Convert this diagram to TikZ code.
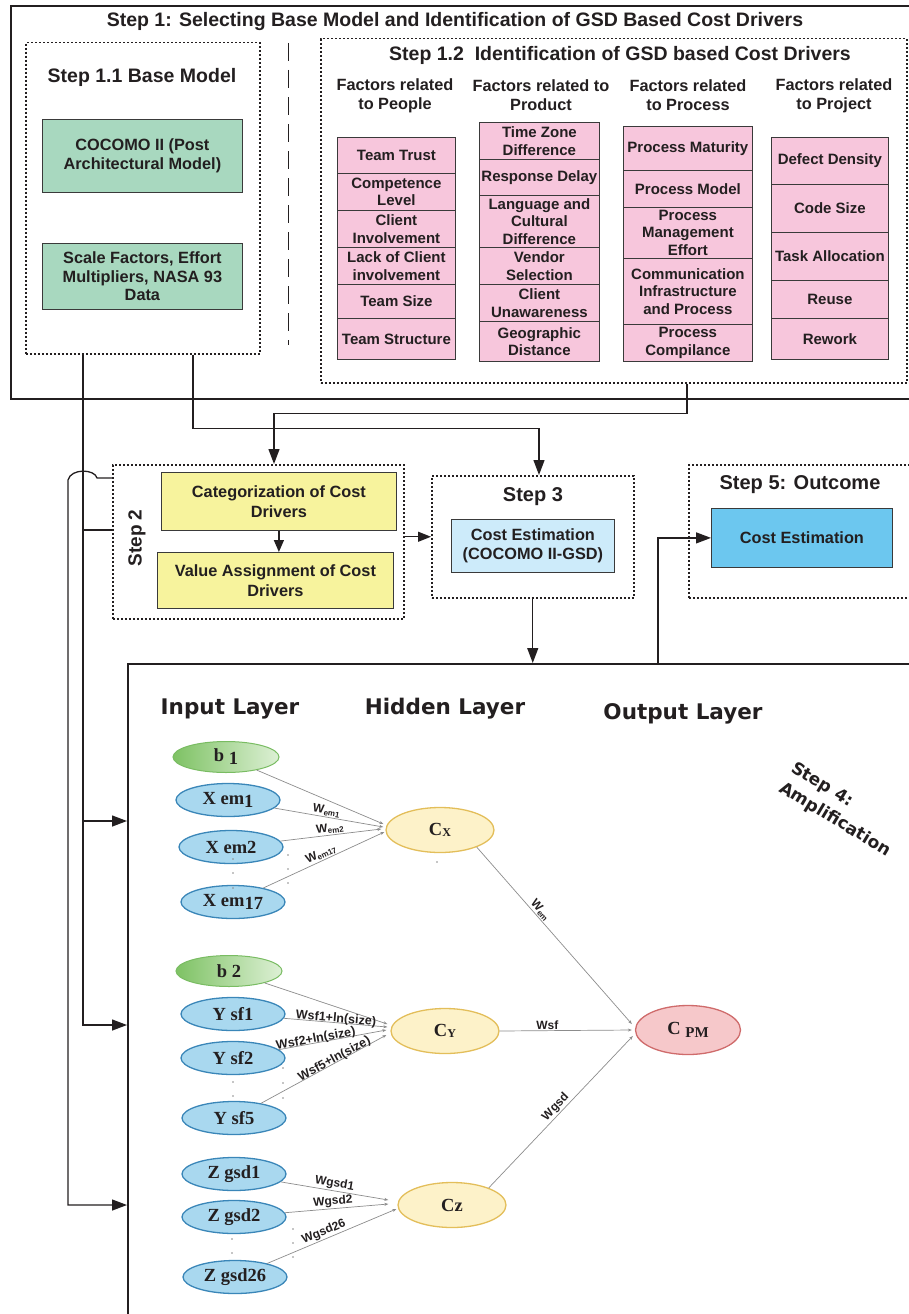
\documentclass[tikz,border=0pt]{standalone}
\usepackage{fontspec}
\setmainfont{Liberation Sans}
\newfontfamily\timesfam{Liberation Serif}
\newfontfamily\dejafam{DejaVu Sans}
\usetikzlibrary{arrows.meta,shapes.geometric,calc}
\definecolor{ink}{HTML}{231F20}
\definecolor{boxline}{HTML}{3A3A3A}
\definecolor{greenbox}{HTML}{A8D8BF}
\definecolor{pinkbox}{HTML}{F7C6DC}
\definecolor{yellowbox}{HTML}{F7F39D}
\definecolor{lightbluebox}{HTML}{CDEBFA}
\definecolor{bluebox}{HTML}{6CC7EF}
\definecolor{ellblue}{HTML}{A9D8EF}
\definecolor{ellblueD}{HTML}{3A86B8}
\definecolor{ellyel}{HTML}{FDF2C9}
\definecolor{ellyelD}{HTML}{E3BE5A}
\definecolor{ellpink}{HTML}{F6C8CA}
\definecolor{ellpinkD}{HTML}{CF6B6B}
\definecolor{bgreenA}{HTML}{7EC264}
\definecolor{bgreenB}{HTML}{DDF0D5}
\definecolor{bgreenD}{HTML}{79BC62}
\definecolor{nnline}{HTML}{8C8C8C}
\newcommand{\cellfnt}{\fontsize{15}{17.5}\selectfont\bfseries}
\newcommand{\hdrfnt}{\fontsize{16.3}{19}\selectfont\bfseries}
\newcommand{\ttlfnt}{\fontsize{19.5}{22}\selectfont\bfseries}
\newcommand{\bigcellfnt}{\fontsize{16.3}{18.5}\selectfont\bfseries}
\newcommand{\midfnt}{\fontsize{16.3}{20}\selectfont\bfseries}
\newcommand{\stepfnt}{\fontsize{20}{23}\selectfont\bfseries}
\newcommand{\layerfnt}{\dejafam\fontsize{21.5}{25}\selectfont\bfseries}
\newcommand{\stepfourfnt}{\dejafam\fontsize{17}{23}\selectfont\bfseries}
\newcommand{\nnfnt}{\timesfam\fontsize{18.5}{20}\selectfont\bfseries}
\newcommand{\lblfnt}{\fontsize{12}{13}\selectfont\bfseries}
\newcommand{\sflblfnt}{\fontsize{12.5}{13}\selectfont\bfseries}
\newcommand{\lo}[1]{\raisebox{-3pt}{#1}}
\begin{document}
\begin{tikzpicture}[x=1pt,y=-1pt,
  solidbox/.style={draw=ink,line width=1.6pt,anchor=north west,inner sep=0pt},
  dotbox/.style={draw=ink,line width=1.5pt,dash pattern=on 2pt off 2pt,anchor=north west,inner sep=0pt},
  cell/.style={draw=boxline,line width=0.8pt,fill=pinkbox,anchor=north west,inner sep=0pt,align=center,font=\cellfnt,text=ink},
  greencell/.style={cell,fill=greenbox,font=\bigcellfnt},
  yelcell/.style={cell,fill=yellowbox,font=\midfnt},
  lbcell/.style={cell,fill=lightbluebox,font=\bigcellfnt},
  bcell/.style={cell,fill=bluebox,font=\bigcellfnt},
  title/.style={font=\ttlfnt,text=ink,align=center,inner sep=0pt},
  header/.style={font=\hdrfnt,text=ink,align=center,inner sep=0pt},
  conn/.style={draw=ink,line width=1.3pt},
  arr/.style={-{Triangle[length=15pt,width=11pt]}},
  inb/.style={ellipse,draw=ellblueD,fill=ellblue,line width=1.3pt,minimum width=104pt,minimum height=33pt,inner sep=0pt,font=\nnfnt,text=ink},
  bias/.style={ellipse,draw=bgreenD,left color=bgreenA,right color=bgreenB,line width=1pt,minimum width=106pt,minimum height=31pt,inner sep=0pt,font=\nnfnt,text=ink},
  hid/.style={ellipse,draw=ellyelD,fill=ellyel,line width=1.3pt,minimum width=108pt,minimum height=45pt,inner sep=0pt,font=\nnfnt,text=ink},
  outn/.style={ellipse,draw=ellpinkD,fill=ellpink,line width=1.3pt,minimum width=105pt,minimum height=49pt,inner sep=0pt,font=\nnfnt,text=ink},
  nnedge/.style={draw=nnline,line width=0.7pt,-{Stealth[length=4pt,width=3pt]}},
  lbl/.style={font=\lblfnt,text=ink,inner sep=1pt},
  sflbl/.style={font=\sflblfnt,text=ink,inner sep=0.5pt,sloped,above=-3pt},
  nndot/.style={circle,fill=nnline,inner sep=0pt,minimum size=1.8pt}
]
\useasboundingbox (0,0) rectangle (909,1314);
\clip (0,0) rectangle (909,1314);
% ---------- Step 1 ----------
\node[solidbox,minimum width=930pt,minimum height=393pt] (s1) at (10,5) {};
\node[title] (s1t) at (455,22) {Step 1: Selecting Base Model and Identification of GSD Based Cost Drivers};
\node[dotbox,minimum width=234pt,minimum height=311pt] (s11) at (25,42) {};
\node[title] (s11t) at (142,77) {Step 1.1 Base Model};
\node[greencell,minimum width=200pt,minimum height=73pt] (coc) at (42,119) {COCOMO II (Post\\Architectural Model)};
\node[greencell,minimum width=200pt,minimum height=66pt] (sfm) at (42,243) {Scale Factors, Effort\\Multipliers, NASA 93\\Data};
\draw[draw=ink,line width=0.9pt,dash pattern=on 18pt off 9pt] (288,43) -- (288,345);
\node[dotbox,minimum width=586pt,minimum height=344pt] (s12) at (320,38) {};
\node[title] (s12t) at (620,55) {Step 1.2\ \ Identification of GSD based Cost Drivers};
\node[header] (h1) at (395,95.5) {Factors related\\to People};
\node[header] (h2) at (541,95.5) {Factors related to\\Product};
\node[header] (h3) at (688,95.5) {Factors related\\to Process};
\node[header] (h4) at (834,95.5) {Factors related\\to Project};
% people
\node[cell,minimum width=118pt,minimum height=36pt] (pe1) at (337,137) {Team Trust};
\node[cell,minimum width=118pt,minimum height=37pt] (pe2) at (337,173) {Competence\\Level};
\node[cell,minimum width=118pt,minimum height=37pt] (pe3) at (337,210) {Client\\Involvement};
\node[cell,minimum width=118pt,minimum height=37pt] (pe4) at (337,247) {Lack of Client\\involvement};
\node[cell,minimum width=118pt,minimum height=34pt] (pe5) at (337,284) {Team Size};
\node[cell,minimum width=118pt,minimum height=41pt] (pe6) at (337,318) {Team Structure};
% product
\node[cell,minimum width=120pt,minimum height=37pt] (pr1) at (479,122) {Time Zone\\Difference};
\node[cell,minimum width=120pt,minimum height=36pt] (pr2) at (479,159) {Response Delay};
\node[cell,minimum width=120pt,minimum height=52pt] (pr3) at (479,195) {Language and\\Cultural\\Difference};
\node[cell,minimum width=120pt,minimum height=37pt] (pr4) at (479,247) {Vendor\\Selection};
\node[cell,minimum width=120pt,minimum height=37pt] (pr5) at (479,284) {Client\\Unawareness};
\node[cell,minimum width=120pt,minimum height=40pt] (pr6) at (479,321) {Geographic\\Distance};
% process
\node[cell,minimum width=129pt,minimum height=44pt] (pc1) at (623,126) {Process Maturity};
\node[cell,minimum width=129pt,minimum height=37pt] (pc2) at (623,170) {Process Model};
\node[cell,minimum width=129pt,minimum height=51pt] (pc3) at (623,207) {Process\\Management\\Effort};
\node[cell,minimum width=129pt,minimum height=66pt] (pc4) at (623,258) {Communication\\Infrastructure\\and Process};
\node[cell,minimum width=129pt,minimum height=37pt] (pc5) at (623,324) {Process\\Compilance};
% project
\node[cell,minimum width=117pt,minimum height=47pt] (pj1) at (771,137) {Defect Density};
\node[cell,minimum width=117pt,minimum height=48pt] (pj2) at (771,184) {Code Size};
\node[cell,minimum width=117pt,minimum height=48pt] (pj3) at (771,232) {Task Allocation};
\node[cell,minimum width=117pt,minimum height=38pt] (pj4) at (771,280) {Reuse};
\node[cell,minimum width=117pt,minimum height=41pt] (pj5) at (771,318) {Rework};
% ---------- Step 2, 3, 5 ----------
\node[dotbox,minimum width=291pt,minimum height=154pt] (s2) at (112,464) {};
\node[rotate=90,font=\fontsize{19}{22}\selectfont\bfseries,text=ink] (s2t) at (137,538) {Step 2};
\node[yelcell,minimum width=235pt,minimum height=58pt] (cat) at (161,472) {Categorization of Cost\\Drivers};
\node[yelcell,minimum width=236pt,minimum height=56pt] (val) at (157,552) {Value Assignment of Cost\\Drivers};
\node[dotbox,minimum width=202pt,minimum height=122pt] (s3) at (431,475) {};
\node[font=\stepfnt,text=ink] (s3t) at (533,497) {Step 3};
\node[lbcell,minimum width=163pt,minimum height=53pt] (est) at (451,519) {Cost Estimation\\(COCOMO II-GSD)};
\node[dotbox,minimum width=240pt,minimum height=133pt] (s5) at (688,464) {};
\node[font=\stepfnt,text=ink] (s5t) at (800,485) {Step 5: Outcome};
\node[bcell,minimum width=181pt,minimum height=59pt] (ce) at (711,508) {Cost Estimation};
% ---------- Step 4 box ----------
\node[solidbox,minimum width=900pt,minimum height=700pt] (nn) at (127,663) {};
% ---------- connectors ----------
\draw[conn,arr] ($(s11.south west)+(168,0)$) -- ++(0,74) -| ($(s3.north west)+(108,0)$);
\draw[conn,arr] ($(s12.south west)+(367,0)$) -- ++(0,30) -| ($(s2.north west)+(162,0)$);
\draw[conn,arr] ($(s11.south west)+(58,0)$) |- ($(nn.north west)+(0,362)$);
\draw[conn] ($(s2.north west)+(-29,66)$) -- ($(s2.north west)+(0,66)$);
\draw[conn,arr] ($(nn.north west)+(-44,158)$) -- ($(nn.north west)+(0,158)$);
\draw[conn,arr] ($(s2.north west)+(0,14)$) -- ($(s2.north west)+(-15,14)$)
   .. controls ($(s2.north west)+(-17,5)$) and ($(s2.north west)+(-41,4)$) .. ($(s2.north west)+(-44,16)$)
   |- ($(nn.north west)+(0,542)$);
\draw[conn,-{Triangle[length=12pt,width=10pt]}] (cat.south) -- (cat.south |- val.north);
\draw[conn,-{Triangle[length=13pt,width=10pt]}] (s3.west -| s2.east) -- (s3.west);
\draw[conn,arr] (s3.south) -- (s3.south |- nn.north);
\draw[conn,arr] ($(nn.north west)+(531,0)$) |- (ce.west);
% ---------- neural network ----------
\node[font=\layerfnt,text=ink] (il) at (230,709) {Input Layer};
\node[font=\layerfnt,text=ink] (hl) at (445,709) {Hidden Layer};
\node[font=\layerfnt,text=ink] (ol) at (683,714) {Output Layer};
\node[font=\stepfourfnt,text=ink,align=left,rotate=-31] (s4) at (841,810) {Step 4:\\Amplification};
\node[bias] (b1) at (226,757) {b \lo{1}};
\node[inb] (xe1) at (228,800) {X em\lo{1}};
\node[inb] (xe2) at (231,847) {X em2};
\node[inb] (xe17) at (233,902) {X em\lo{17}};
\node[hid] (cx) at (440,830) {C\raisebox{-1pt}{\fontsize{12}{12}\selectfont X}};
\node[bias] (b2) at (229,971) {b 2};
\node[inb] (ys1) at (233,1014) {Y sf1};
\node[inb] (ys2) at (233,1058) {Y sf2};
\node[inb] (ys5) at (234,1118) {Y sf5};
\node[hid] (cy) at (445,1031) {C\raisebox{-1pt}{\fontsize{12}{12}\selectfont Y}};
\node[inb] (zg1) at (234,1174) {Z gsd1};
\node[inb] (zg2) at (234,1217) {Z gsd2};
\node[inb] (zg26) at (235,1277) {Z gsd26};
\node[hid] (cz) at (452,1205) {Cz};
\node[outn] (cpm) at (688,1030) {C \lo{\fontsize{15}{15}\selectfont PM}};
% edges
\draw[nnedge] (b1) -- ($(cx.west)+(-2,-6)$);
\draw[nnedge] (xe1) -- node[lbl,sloped,above,pos=0.47] {W\textsubscript{em1}} ($(cx.west)+(-2,-3)$);
\draw[nnedge] (xe2) -- node[lbl,sloped,above,pos=0.5] {W\textsubscript{em2}} ($(cx.west)+(-4,-1)$);
\draw[nnedge] (xe17) -- node[lbl,sloped,above,pos=0.5] {W\textsubscript{em17}} ($(cx.west)+(-1,2)$);
\draw[nnedge] (b2) -- ($(cy.west)+(-3,-7)$);
\draw[nnedge] (ys1) -- node[sflbl,pos=0.5] {Wsf1+ln(size)} ($(cy.west)+(-3,-4)$);
\draw[nnedge] (ys2) -- node[sflbl,pos=0.35] {Wsf2+ln(size)} ($(cy.west)+(-4,-1)$);
\draw[nnedge] (ys5) -- node[sflbl,pos=0.6] {Wsf5+ln(size)} ($(cy.west)+(-4,4)$);
\draw[nnedge] (zg1) -- node[lbl,sloped,above,pos=0.49] {Wgsd1} ($(cz.west)+(-9,-5)$);
\draw[nnedge] (zg2) -- node[lbl,sloped,above,pos=0.47] {Wgsd2} ($(cz.west)+(-9,-1)$);
\draw[nnedge] (zg26) -- node[lbl,sloped,above,pos=0.46] {Wgsd26} ($(cz.west)+(-1,4)$);
\draw[nnedge] (cx.-25) -- node[lbl,sloped,above,pos=0.38] {W\textsubscript{em}} ($(cpm.west)+(-3,-6)$);
\draw[nnedge] (cy.east) -- node[lbl,above,pos=0.36] {Wsf} ($(cpm.west)+(-3,0)$);
\draw[nnedge] (cz.25) -- node[lbl,sloped,above,pos=0.5] {Wgsd} ($(cpm.west)+(-2,6)$);
% dots
\foreach \yy in {859,873,888} \node[nndot] at (233,\yy) {};
\foreach \yy in {855,869,883} \node[nndot] at (288,\yy) {};
\node[nndot] at (437,862) {};
\foreach \yy in {1082,1096} \node[nndot] at (233,\yy) {};
\foreach \yy in {1068,1083,1098} \node[nndot] at (283,\yy) {};
\foreach \yy in {1239,1253} \node[nndot] at (232,\yy) {};
\foreach \yy in {1229,1243,1257} \node[nndot] at (293,\yy) {};
\end{tikzpicture}
\end{document}
